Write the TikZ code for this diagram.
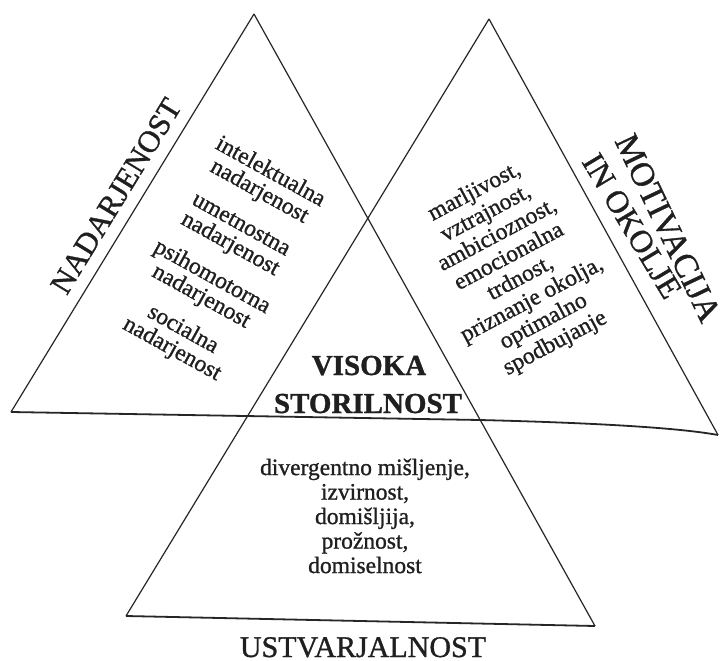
\documentclass[tikz,border=0pt]{standalone}
\usepackage{fontspec}
\setmainfont{Liberation Serif}[FakeBold=1.0]
\begin{document}
\begin{tikzpicture}[x=1pt,y=-1pt,
  side/.style={draw=black!85,line width=1.2pt},
  basel/.style={draw=black!85,line width=1.8pt},
  body/.style={align=center,inner sep=0pt,text=black!88,font={\fontsize{23.5}{22.5}\selectfont}},
  big/.style={inner sep=0pt,text=black!88,font={\fontsize{31}{31}\selectfont}}]
\useasboundingbox (0,0) rectangle (720,661);
\fill[white] (0,0) rectangle (720,661);
% corners
\coordinate (LA) at (254,14);
\coordinate (RA) at (489,19);
\coordinate (LL) at (11,412);
\coordinate (RR) at (718,435);
\coordinate (BL) at (126,616);
\coordinate (BR) at (595,626);
\coordinate (M2) at (480,420);
% lines
\draw[side] (LA) -- (LL);
\draw[side] (LA) -- (BR);
\draw[side] (RA) -- (BL);
\draw[side] (RA) -- (RR);
\draw[basel] (LL) -- (M2) .. controls (600,423) and (680,428) .. (RR);
\draw[basel] (BL) -- (BR);
% labels
\node[big,rotate=58.6] (nad) at (116,196) {NADARJENOST};
\node[big,rotate=-64.5,font={\fontsize{34}{34}\selectfont}] (mot) at (668,228) {MOTIVACIJA};
\node[big,rotate=-59,font={\fontsize{32}{32}\selectfont}] (okl) at (632,226) {IN OKOLJE};
\node[big,anchor=base,font={\fontsize{30}{30}\selectfont}] (ust) at (363,657) {USTVARJALNOST};
\node[big,anchor=base,font={\fontsize{29}{29}\selectfont\bfseries}] (vis) at (369,375) {VISOKA};
\node[big,anchor=base,font={\fontsize{29}{29}\selectfont\bfseries}] (sto) at (368,413) {STORILNOST};
% body texts
\node[body,rotate=-29] (nadt) at (221,261) {intelektualna\\nadarjenost\\[15pt]umetnostna\\nadarjenost\\[15pt]psihomotorna\\nadarjenost\\[15pt]socialna\\nadarjenost};
\node[body,rotate=28,font={\fontsize{23.5}{24.5}\selectfont}] (mott) at (515,268) {marljivost,\\vztrajnost,\\ambicioznost,\\emocionalna\\trdnost,\\priznanje okolja,\\optimalno\\spodbujanje};
\node[body,font={\fontsize{23.5}{24.5}\selectfont}] (ustt) at (365,516) {divergentno mišljenje,\\izvirnost,\\domišljija,\\prožnost,\\domiselnost};
\end{tikzpicture}
\end{document}
